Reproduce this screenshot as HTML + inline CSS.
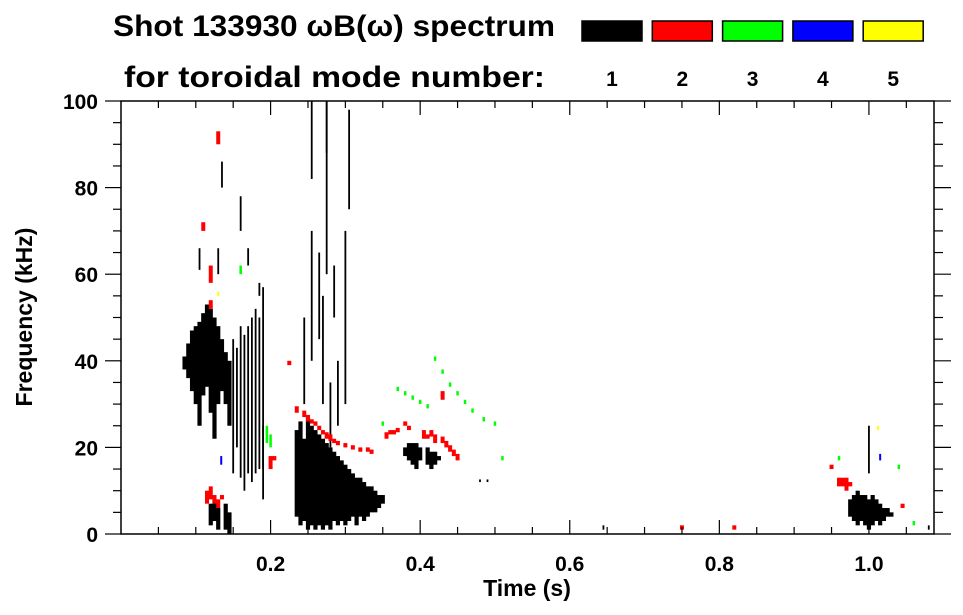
<!DOCTYPE html>
<html><head><meta charset="utf-8"><style>
html,body{margin:0;padding:0;background:#fff;}
svg{display:block;font-family:"Liberation Sans",Arial,sans-serif;font-weight:bold;}
</style></head><body>
<svg id="chart" width="963" height="615" viewBox="0 0 963 615" xmlns="http://www.w3.org/2000/svg">
<rect x="0" y="0" width="963" height="615" fill="#fff"/>
<text x="113" y="36" font-size="30" textLength="442" lengthAdjust="spacingAndGlyphs">Shot 133930 ωB(ω) spectrum</text>
<text x="124" y="87" font-size="30" textLength="421" lengthAdjust="spacingAndGlyphs">for toroidal mode number:</text>
<g id="legend"></g>
<g id="marks"></g>
<g id="axes"></g>
<text x="527" y="596" font-size="23" text-anchor="middle">Time (s)</text>
<text transform="translate(32,317) rotate(-90)" font-size="23" text-anchor="middle">Frequency (kHz)</text>
</svg>
<script>
// ---- data: modes & legend ----
const modeLabels = ["1","2","3","4","5"];
const modeColors = ["#000000","#ff0000","#00ff00","#0000ff","#ffff00"];
// ---- data: axis ticks ----
const xTickLabels = [0.2,0.4,0.6,0.8,1.0];
const yTickLabels = [0,20,40,60,80,100];
// ---- data: black (n=1) dense spectral strokes: time, low freq, high freq ----
const n1Time = [0.085,0.09,0.095,0.10,0.105,0.11,0.115,0.12,0.125,0.13,0.135,0.14,0.145,
 0.12,0.125,0.13,0.14,0.145,
 0.235,0.24,0.245,0.25,0.255,0.26,0.265,0.27,0.275,0.28,0.285,0.29,0.295,0.30,0.305,0.31,0.315,0.32,0.325,0.33,0.335,0.34,0.345,0.35,
 0.38,0.385,0.39,0.395,0.40,0.41,0.415,0.42,0.425,
 0.975,0.98,0.985,0.99,0.995,1.0,1.005,1.01,1.015,1.02,1.025,1.03];
const n1Low = [38,36,33,30,25,32,34,28,22,30,33,30,25,
 2,3,1,1,0,
 4,2,3,1,2,1,2,1,2,1,3,2,3,2,3,4,2,4,3,4,5,5,6,7,
 18,17,16,15,17,16,15,16,17,
 4,3,2,3,2,1,2,3,2,3,4,4];
const n1High = [41,44,47,48,49,51,53,52,50,48,45,42,40,
 7,8,6,7,5,
 24,26,22,27,25,24,23,22,21,20,19,18,17,16,15,14,13,13,12,11,11,10,9,9,
 20,21,21,21,20,20,19,19,18,
 8,9,10,9,9,8,9,8,7,6,6,5];
// ---- data: black (n=1) thin/sparse strokes ----
const n1ThinTime = [0.15,0.155,0.16,0.165,0.17,0.175,0.18,0.185,0.19,0.19,0.13,0.16,0.17,0.135,0.185,0.105,
 0.245,0.255,0.27,0.275,0.28,0.29,0.30,0.305,0.255,0.275,0.265,0.285,
 0.48,0.49,1.0,1.08,0.645];
const n1ThinLow = [14,20,13,10,14,12,14,15,8,15,60,70,62,80,55,61,
 30,40,30,60,20,25,30,75,82,88,45,50,
 12,12,14,1,1];
const n1ThinHigh = [45,43,48,46,48,50,52,50,25,57,66,78,66,86,58,66,
 50,70,55,100,35,40,70,98,100,100,65,62,
 12.6,12.6,25,2,2];
// ---- data: red (n=2) strokes ----
const n2Time = [0.235,0.245,0.25,0.255,0.26,0.265,0.27,0.275,0.28,0.285,0.29,0.30,0.31,0.32,0.33,0.335,
 0.355,0.36,0.365,0.37,0.38,0.385,0.405,0.41,0.415,0.42,0.43,0.435,0.44,0.445,0.45,
 0.225,0.20,0.205,0.12,0.12,0.13,0.11,0.115,0.12,0.125,0.13,0.135,
 0.96,0.965,0.97,0.975,1.045,0.95,0.75,0.82,0.43];
const n2Low = [28,27,26,25.5,25,24,23,22,21.5,21,20.5,20,19.5,19,19,18.5,
 22,23,23,23.5,25,24,22,22,22.5,21,21,20,19,18,17,
 39,15,17,58,52,90,70,7,8,7,6,8,
 11,11,10,11,6,15,1,1,31];
const n2High = [29.5,28.5,27.5,26.5,26,25,24,23.5,23,22,21.5,21,20.5,20,20,19.5,
 23.5,24,24,24.5,26,25,24,23,24,23,22.5,21.5,20.5,19.5,18.5,
 40,18,18,62,54,93,72,10,11,9,8,9,
 13,13,13,12,7,16,2,2,33];
// ---- data: green (n=3) strokes ----
const n3Time = [0.195,0.20,0.16,0.37,0.38,0.39,0.40,0.41,0.42,0.43,0.44,0.45,0.46,0.47,0.485,0.50,0.51,0.96,1.04,1.06,0.35];
const n3Low  = [21,20,60,33,32,31,30,29,40,37,34,32,30,28,26,25,17,17,15,2,25];
const n3High = [25,23,62,34,33,32,31,30,41,38,35,33,31,29,27,26,18,18,16,3,26];
// ---- data: blue (n=4) and yellow (n=5) strokes ----
const n4Time = [0.134,1.015]; const n4Low = [16,17]; const n4High = [18,18.5];
const n5Time = [0.13,1.012]; const n5Low = [55,24]; const n5High = [56,25];

const NS="http://www.w3.org/2000/svg";
const L=121,R=934,T=101,B=534,TMAX=1.087,FMAX=100;
function X(t){return L+t/TMAX*(R-L);}
function Y(f){return B-f/FMAX*(B-T);}
function mk(tag,attrs,parent){const e=document.createElementNS(NS,tag);for(const k in attrs)e.setAttribute(k,attrs[k]);parent.appendChild(e);return e;}

const legend=document.getElementById('legend');
modeLabels.forEach((lab,i)=>{
  const x=582+i*70.3;
  const r=mk('rect',{x:x,y:21,width:60,height:20,fill:modeColors[i],stroke:'#000','stroke-width':1.5},legend);
  
  
  const t=mk('text',{x:x+30,y:86,'font-size':21,'text-anchor':'middle'},legend);
  t.textContent=lab;
  
  
});

const marks=document.getElementById('marks');
function drawSeries(times,lows,highs,color,w,name){
  times.forEach((t,i)=>{
    const y1=Y(highs[i]),y2=Y(lows[i]);
    const r=mk('rect',{x:X(t)-w/2,y:y1,width:w,height:Math.max(1.5,y2-y1),fill:color},marks);
    
    
  });
}
drawSeries(n1Time,n1Low,n1High,modeColors[0],4.2,'mode-1-stroke');
drawSeries(n1ThinTime,n1ThinLow,n1ThinHigh,modeColors[0],1.8,'mode-1-thin-stroke');
drawSeries(n2Time,n2Low,n2High,modeColors[1],4,'mode-2-stroke');
drawSeries(n3Time,n3Low,n3High,modeColors[2],2.5,'mode-3-stroke');
drawSeries(n4Time,n4Low,n4High,modeColors[3],2,'mode-4-stroke');
drawSeries(n5Time,n5Low,n5High,modeColors[4],2,'mode-5-stroke');

const axes=document.getElementById('axes');
const frame=mk('rect',{x:L,y:T,width:R-L,height:B-T,fill:'none',stroke:'#000','stroke-width':1.5},axes);


for(let k=1;k*0.05<TMAX;k++){
  const t=k*0.05,x=X(t),major=(k%4===0);
  const len=major?14:7;
  mk('line',{x1:x,y1:B,x2:x,y2:B-len,stroke:'#000','stroke-width':1.2},axes);
  mk('line',{x1:x,y1:T,x2:x,y2:T+len,stroke:'#000','stroke-width':1.2},axes);
}
xTickLabels.forEach(v=>{
  const t=mk('text',{x:X(v),y:571,'font-size':21,'text-anchor':'middle'},axes);
  t.textContent=v.toFixed(1);
  
  
});
for(let k=0;k<=20;k++){
  const f=k*5,y=Y(f),major=(k%4===0);
  mk('line',{x1:L,y1:y,x2:L-(major?16:8),y2:y,stroke:'#000','stroke-width':1.2},axes);
  mk('line',{x1:R,y1:y,x2:R+(major?17:9),y2:y,stroke:'#000','stroke-width':1.2},axes);
}
yTickLabels.forEach(v=>{
  const t=mk('text',{x:98,y:Y(v)+8,'font-size':21,'text-anchor':'end'},axes);
  t.textContent=v;
  
  
});
</script>
</body></html>
